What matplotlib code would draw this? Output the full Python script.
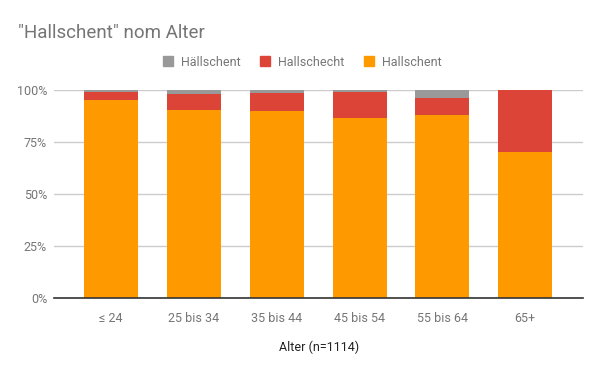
import numpy as np
import matplotlib.pyplot as plt
from matplotlib.lines import Line2D

plt.rcParams['font.family'] = ['Roboto', 'DejaVu Sans']

# data (percent per age group)
alter = ['≤ 24', '25 bis 34', '35 bis 44', '45 bis 54', '55 bis 64', '65+']
hallschent = [95.2, 90.4, 89.9, 86.5, 88.0, 70.2]
hallschecht = [3.8, 7.7, 8.7, 12.5, 8.2, 29.8]
haellschent = [1.0, 1.9, 1.4, 1.0, 3.8, 0.0]
serien = ['Hällschent', 'Hallschecht', 'Hallschent']
farben = ['#999999', '#db4437', '#ff9900']

fig = plt.figure(figsize=(6, 3.71), dpi=100)
ax = fig.add_axes([0.09, 0.1968, 0.882, 0.5606])

x = np.arange(len(alter))
w = 0.652
ax.bar(x, hallschent, w, color=farben[2], zorder=3)
ax.bar(x, hallschecht, w, bottom=hallschent, color=farben[1], zorder=3)
unten = np.array(hallschent) + np.array(hallschecht)
ax.bar(x, haellschent, w, bottom=unten, color=farben[0], zorder=3)

ax.set_xlim(-0.688, 5.70)
ax.set_ylim(0, 100)
ax.set_yticks([0, 25, 50, 75, 100])
ax.set_yticklabels(['0%', '25%', '50%', '75%', '100%'])
ax.set_xticks(x)
ax.set_xticklabels(alter)
ax.tick_params(axis='both', length=0, labelsize=9, labelcolor='#757575')
ax.tick_params(axis='y', pad=5)
ax.tick_params(axis='x', pad=10)
ax.grid(axis='y', color='#cccccc', linewidth=1, zorder=0)
for s in ['top', 'right', 'left']:
    ax.spines[s].set_visible(False)
ax.spines['bottom'].set_color('#333333')
ax.spines['bottom'].set_linewidth(1.2)
ax.spines['bottom'].set_zorder(4)

ax.set_xlabel('Alter (n=1114)', fontsize=9, color='#222222', labelpad=11)

fig.text(0.03, 0.91, '"Hallschent" nom Alter', fontsize=13.5, color='#757575',
         va='center', ha='left')

handles = [Line2D([], [], marker='s', linestyle='none', markersize=7.5,
                  markerfacecolor=c, markeredgecolor=c) for c in farben]
leg = fig.legend(handles, serien, loc='center', bbox_to_anchor=(0.503, 0.832),
                 ncol=3, frameon=False, fontsize=9, handletextpad=0.5,
                 columnspacing=1.5, handlelength=1.0)
for t in leg.get_texts():
    t.set_color('#757575')

fig.savefig('out.png', dpi=100)
